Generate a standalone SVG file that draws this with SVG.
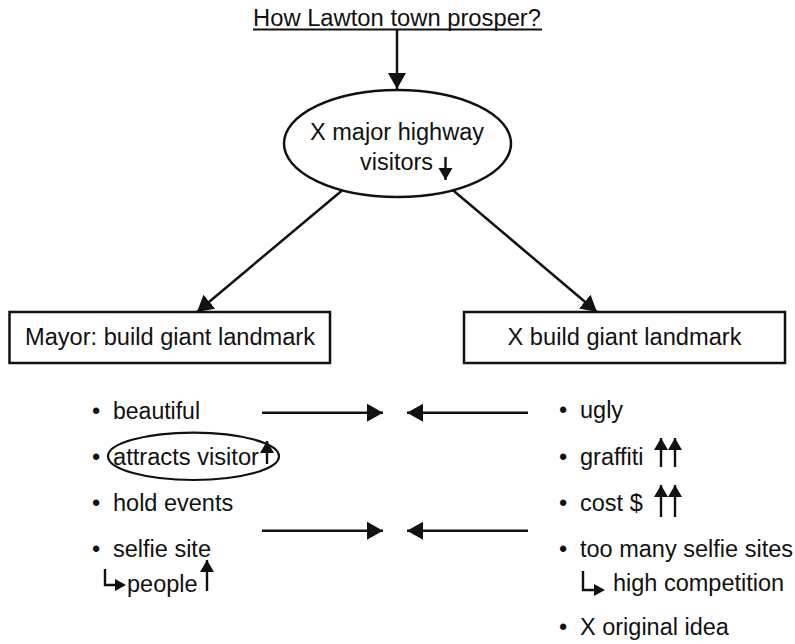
<svg xmlns="http://www.w3.org/2000/svg" width="795" height="644" viewBox="0 0 795 644">
<defs>
<style>
text{font-family:"Liberation Sans",Arial,sans-serif;font-size:23.5px;fill:#111}
.ln{stroke:#111;stroke-width:2.5;fill:none}
.box{fill:#fff;stroke:#111;stroke-width:2.5}
.sm{stroke:#111;stroke-width:2.4;fill:none}
.hd{fill:#111}
</style>
<marker id="ah" markerUnits="userSpaceOnUse" markerWidth="18" markerHeight="20" refX="16" refY="9" orient="auto">
<path d="M0,0 L16,9 L0,18 z" fill="#111"/>
</marker>
<marker id="sh" markerUnits="userSpaceOnUse" markerWidth="14" markerHeight="15" refX="12" refY="7" orient="auto">
<path d="M0,0 L12,7 L0,14 z" fill="#111"/>
</marker>
</defs>
<rect width="795" height="644" fill="#fff"/>
<g id="title">
<text x="397" y="26" text-anchor="middle" textLength="288" lengthAdjust="spacingAndGlyphs">How Lawton town prosper?</text>
<line x1="253" y1="29.5" x2="542" y2="29.5" stroke="#111" stroke-width="2"/>
</g>
<g id="highway">
<ellipse cx="397.5" cy="143.5" rx="113.5" ry="53.5" class="box"/>
<text x="397" y="140" text-anchor="middle" textLength="174" lengthAdjust="spacingAndGlyphs">X major highway</text>
<text x="360" y="170" textLength="73" lengthAdjust="spacingAndGlyphs">visitors</text>
<line x1="445.5" y1="157" x2="445.5" y2="180" class="sm" marker-end="url(#sh)"/>
</g>
<g id="mayor">
<rect x="9.5" y="312" width="320.5" height="51" class="box"/>
<text x="170" y="345" text-anchor="middle" textLength="290" lengthAdjust="spacingAndGlyphs">Mayor: build giant landmark</text>
</g>
<g id="xbuild">
<rect x="464" y="312" width="321" height="51" class="box"/>
<text x="624.5" y="345" text-anchor="middle" textLength="234" lengthAdjust="spacingAndGlyphs">X build giant landmark</text>
</g>
<g id="pros">
<text x="92" y="419">•</text><text x="113" y="419" textLength="87" lengthAdjust="spacingAndGlyphs">beautiful</text>
<text x="92" y="465">•</text><text x="113" y="465" textLength="146" lengthAdjust="spacingAndGlyphs">attracts visitor</text>
<line x1="267" y1="464" x2="267" y2="441" class="sm" marker-end="url(#sh)"/>
<ellipse cx="193.5" cy="456.3" rx="85.5" ry="23.7" fill="none" stroke="#111" stroke-width="2.2"/>
<text x="92" y="511">•</text><text x="113" y="511">hold events</text>
<text x="92" y="557">•</text><text x="113" y="557">selfie site</text>
<path d="M105,569 V585 H116" class="sm"/>
<path d="M115,579 L126,585 L115,591 z" class="hd"/>
<text x="127" y="592">people</text>
<line x1="207" y1="591" x2="207" y2="560" class="sm" marker-end="url(#sh)"/>
</g>
<g id="cons">
<text x="559" y="418">•</text><text x="580" y="418">ugly</text>
<text x="559" y="465">•</text><text x="580" y="465">graffiti</text>
<line x1="661" y1="467" x2="661" y2="438" class="sm" marker-end="url(#sh)"/>
<line x1="675" y1="467" x2="675" y2="438" class="sm" marker-end="url(#sh)"/>
<text x="559" y="511">•</text><text x="580" y="511">cost $</text>
<line x1="661" y1="517" x2="661" y2="485" class="sm" marker-end="url(#sh)"/>
<line x1="675" y1="517" x2="675" y2="485" class="sm" marker-end="url(#sh)"/>
<text x="559" y="557">•</text><text x="580" y="557" textLength="213" lengthAdjust="spacingAndGlyphs">too many selfie sites</text>
<path d="M583,571 V590 H595" class="sm"/>
<path d="M594,584 L605,590 L594,596 z" class="hd"/>
<text x="613" y="591">high competition</text>
<text x="559" y="635">•</text><text x="580" y="635">X original idea</text>
</g>
<g id="connectors">
<line x1="397" y1="30" x2="397" y2="89" class="ln" marker-end="url(#ah)"/>
<line x1="341.7" y1="190.7" x2="197" y2="312" class="ln" marker-end="url(#ah)"/>
<line x1="452.7" y1="190" x2="597" y2="312" class="ln" marker-end="url(#ah)"/>
<line x1="262" y1="412.7" x2="383" y2="412.7" class="ln" marker-end="url(#ah)"/>
<line x1="528" y1="412.7" x2="407" y2="412.7" class="ln" marker-end="url(#ah)"/>
<line x1="262" y1="530.7" x2="383" y2="530.7" class="ln" marker-end="url(#ah)"/>
<line x1="528" y1="530.7" x2="407" y2="530.7" class="ln" marker-end="url(#ah)"/>
</g>
</svg>
